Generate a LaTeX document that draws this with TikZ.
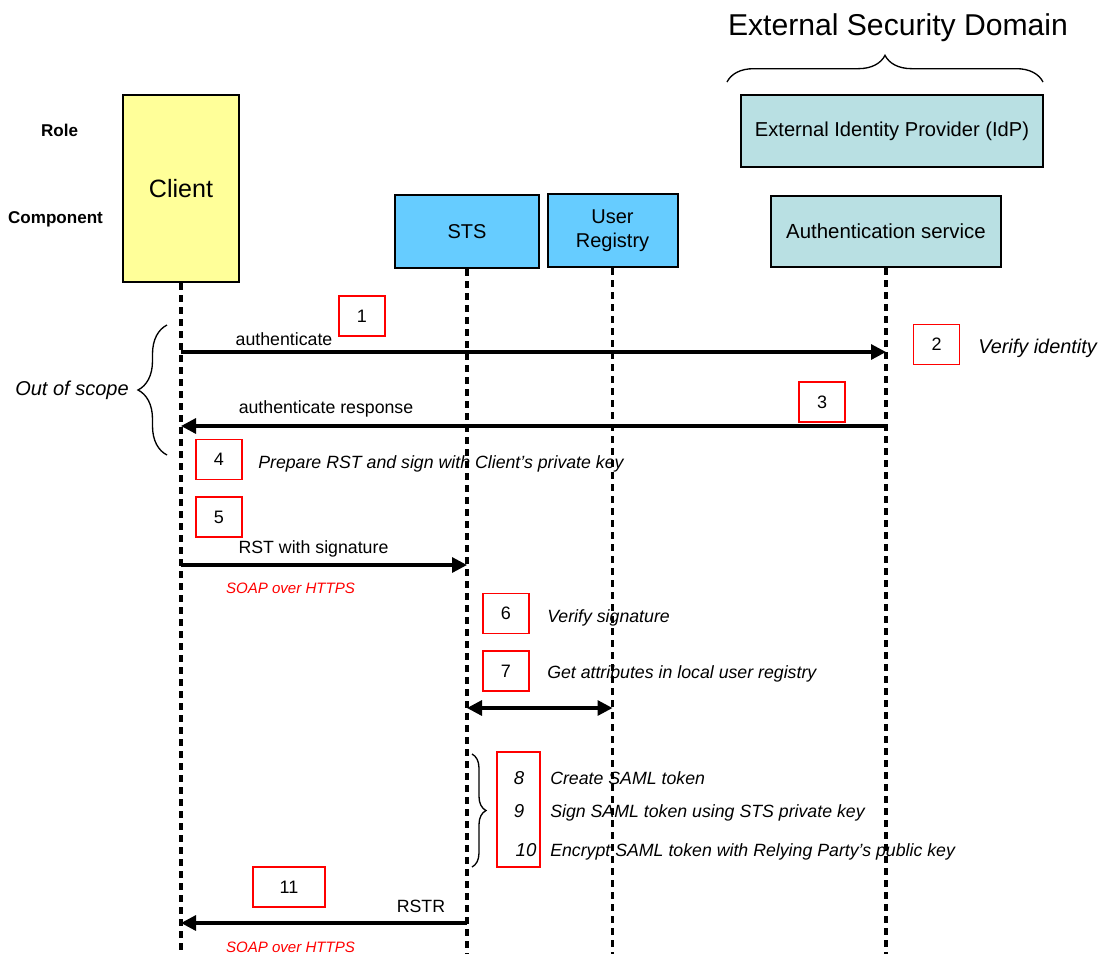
\documentclass[tikz,border=0pt]{standalone}
\usepackage{fontspec}
\setmainfont{Liberation Sans}
\usetikzlibrary{arrows.meta,decorations.pathreplacing}
\definecolor{clientfill}{HTML}{FFFF99}
\definecolor{stsfill}{HTML}{66CCFF}
\definecolor{idpfill}{HTML}{B9E0E3}
\definecolor{stepred}{HTML}{FF0000}
\newcommand{\fsz}[2]{\fontsize{#1}{#2}\selectfont}

\begin{document}
\begin{tikzpicture}[x=0.75pt,y=-0.75pt,
  actor/.style={draw=black,line width=1.5pt,inner sep=0pt,align=center},
  lifeline/.style={line width=2.4pt,dash pattern=on 5.5pt off 3.5pt},
  tip/.tip={Triangle[length=11.25pt,width=11.25pt]},
  msg/.style={line width=2.4pt,-tip},
  biarrow/.style={line width=2.4pt,tip-tip},
  stepbox/.style={draw=stepred,line width=1.2pt,minimum width=34.5pt,minimum height=30pt,inner sep=0pt,font=\fsz{13.5}{16}},
  lbl/.style={font=\fsz{13.3}{16},inner sep=0pt,anchor=mid},
  note/.style={font=\fsz{13.3}{16}\itshape,inner sep=0pt,anchor=mid west},
  proto/.style={font=\fsz{11.3}{13}\itshape,text=stepred,inner sep=0pt,anchor=mid},
  curly/.style={decorate,line width=1pt}
]
\useasboundingbox (0,0) rectangle (1100,954);

% ---- heading and row captions ----
\node[font=\fsz{22.6}{27},inner sep=0pt,anchor=mid] (domain) at (898,32) {External Security Domain};
\node[font=\fsz{12.8}{15}\bfseries,inner sep=0pt,anchor=mid] (role) at (59.5,133) {Role};
\node[font=\fsz{12.8}{15}\bfseries,inner sep=0pt,anchor=mid] (component) at (55.5,220) {Component};

% ---- participants ----
\node[actor,fill=clientfill,minimum width=87pt,minimum height=140.25pt,font=\fsz{18.8}{22}] (client) at (181,188.5) {Client};
\node[actor,fill=stsfill,minimum width=108pt,minimum height=54.75pt,font=\fsz{15}{18}] (sts) at (467,231.5) {STS};
\node[actor,fill=stsfill,minimum width=97.5pt,minimum height=54.75pt,font=\fsz{15}{18}] (registry) at (612.5,230.5) {User\\Registry};
\node[actor,fill=idpfill,minimum width=226.5pt,minimum height=54pt,font=\fsz{15.1}{18}] (idp) at (892,131) {External Identity Provider (IdP)};
\node[actor,fill=idpfill,minimum width=172.5pt,minimum height=53.25pt,font=\fsz{15.3}{18}] (authsvc) at (886,231.5) {Authentication service};

% ---- lifelines ----
\coordinate (clientEnd) at (181,954);
\coordinate (stsEnd) at (467,954);
\coordinate (registryEnd) at (612.5,954);
\coordinate (authEnd) at (886,954);
\draw[lifeline] (client.south) -- (clientEnd);
\draw[lifeline] (sts.south) -- (stsEnd);
\draw[lifeline] (registry.south) -- (registryEnd);
\draw[lifeline] (authsvc.south) -- (authEnd);

% ---- braces ----
\coordinate (domL) at (727,82);
\coordinate (domR) at (1043,82);
\draw[curly,decoration={brace,amplitude=20pt}] (domL) -- (domR);

\coordinate (scopeBot) at (167,455);
\coordinate (scopeTop) at (167,325);
\draw[curly,decoration={brace,amplitude=21.75pt}] (scopeBot) -- (scopeTop);
\node[font=\fsz{15}{18}\itshape,inner sep=0pt,anchor=mid] (scope) at (72,392) {Out of scope};

\coordinate (tokTop) at (472,754);
\coordinate (tokBot) at (472,867);
\draw[curly,decoration={brace,amplitude=10.5pt}] (tokTop) -- (tokBot);

% ---- 1: authenticate ----
\coordinate (c1) at (181,352);
\coordinate (a1) at (886,352);
\draw[msg] (c1) -- (a1);
\node[lbl] (authLbl) at (284,342) {authenticate};
\node[stepbox] (s1) at (362,316) {1};

% ---- 2: verify identity ----
\node[stepbox] (s2) at (936.5,344.5) {2};
\node[note,font=\fsz{14.9}{18}\itshape] (s2txt) at (978,350) {Verify identity};

% ---- 3: authenticate response ----
\coordinate (a3) at (886,426);
\coordinate (c3) at (181,426);
\draw[msg] (a3) -- (c3);
\node[lbl] (respLbl) at (326,410) {authenticate response};
\node[stepbox] (s3) at (822,402) {3};

% ---- 4: prepare RST ----
\node[stepbox] (s4) at (219,459.5) {4};
\node[note] (s4txt) at (258,465) {Prepare RST and sign with Client’s private key};

% ---- 5: RST with signature ----
\node[stepbox] (s5) at (219,517) {5};
\coordinate (c5) at (181,565);
\coordinate (t5) at (467,565);
\draw[msg] (c5) -- (t5);
\node[lbl] (rstLbl) at (313.5,550) {RST with signature};
\node[proto] (soap1) at (290.5,590) {SOAP over HTTPS};

% ---- 6 and 7 ----
\node[stepbox] (s6) at (506,613.5) {6};
\node[note] (s6txt) at (547,619) {Verify signature};
\node[stepbox] (s7) at (506,671) {7};
\node[note] (s7txt) at (547,675) {Get attributes in local user registry};
\coordinate (t7) at (467,708);
\coordinate (r7) at (612.5,708);
\draw[biarrow] (t7) -- (r7);

% ---- 8, 9, 10: token handling ----
\node[draw=stepred,line width=1.2pt,minimum width=32.25pt,minimum height=86.25pt,inner sep=0pt] (s810) at (518.5,809.5) {};
\node[font=\fsz{14}{17}\itshape,inner sep=0pt,anchor=mid] (n8) at (519,781) {8};
\node[font=\fsz{14}{17}\itshape,inner sep=0pt,anchor=mid] (n9) at (519,814) {9};
\node[font=\fsz{14}{17}\itshape,inner sep=0pt,anchor=mid] (n10) at (526,853) {10};
\node[note] (s8txt) at (550,781) {Create SAML token};
\node[note] (s9txt) at (550,814) {Sign SAML token using STS private key};
\node[note] (s10txt) at (550,853) {Encrypt SAML token with Relying Party’s public key};

% ---- 11: RSTR ----
\node[stepbox,minimum width=54pt] (s11) at (289,887) {11};
\coordinate (t11) at (467,923);
\coordinate (c11) at (181,923);
\draw[msg] (t11) -- (c11);
\node[lbl] (rstrLbl) at (421,909) {RSTR};
\node[proto] (soap2) at (290.5,949) {SOAP over HTTPS};
\end{tikzpicture}
\end{document}
